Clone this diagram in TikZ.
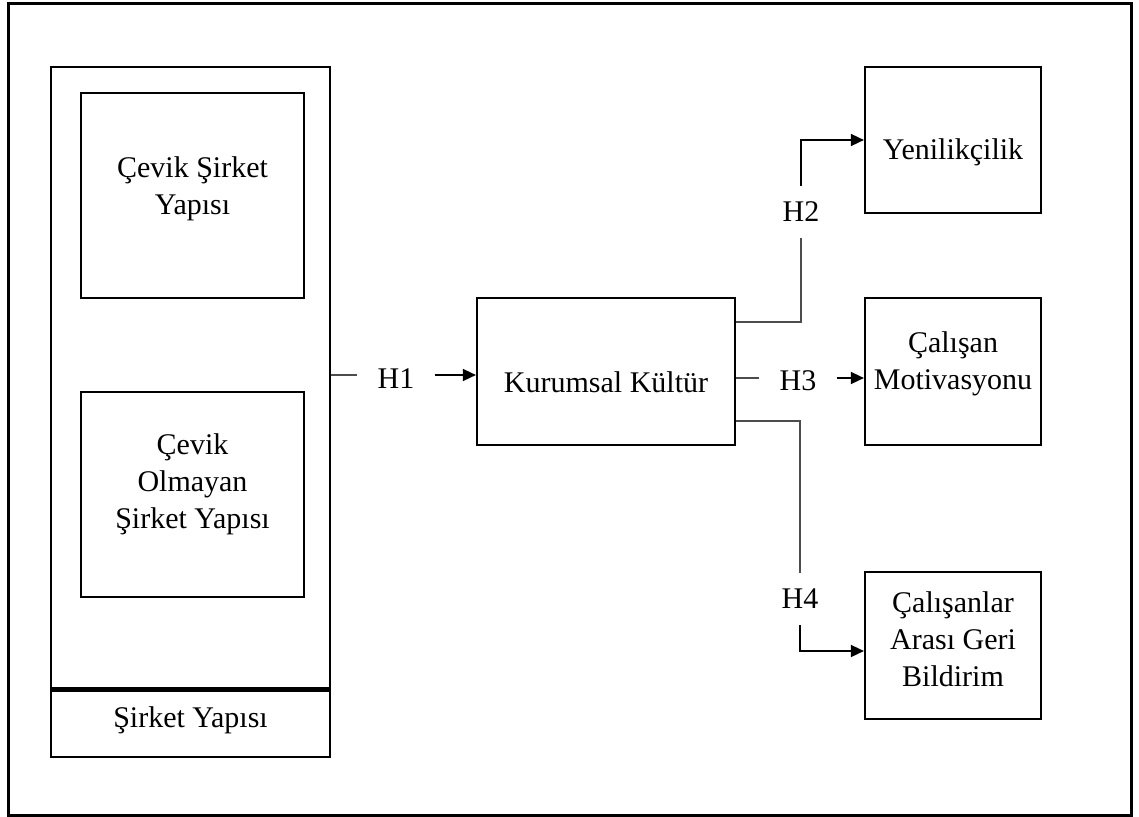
\documentclass[tikz,border=0pt]{standalone}
\usepackage{fontspec}
\setmainfont{Liberation Serif}
\usetikzlibrary{arrows.meta}
\begin{document}
\begin{tikzpicture}[x=1pt,y=-1pt,
  box/.style={draw, line width=2.2pt, inner sep=0pt},
  lbl/.style={font=\fontsize{30}{37}\selectfont, align=center, inner sep=0pt},
  hlbl/.style={font=\fontsize{30}{37}\selectfont, inner xsep=20pt, inner ysep=14pt},
  conn/.style={line width=1.6pt, draw=black!70},
  arr/.style={-{Triangle[length=13pt,width=12pt]}, black}]
\useasboundingbox (0,0) rectangle (1139,816);
\draw[line width=3pt] (8,4) rectangle (1131,815);
% left column
\node[box, minimum width=279pt, minimum height=690pt] (sy) at (190.5,412) {};
\draw[line width=5pt] (sy.west |- 0,689) -- (sy.east |- 0,689);
\node[lbl] (syl) at (190.5,720) {Şirket Yapısı};
\node[box, minimum width=223pt, minimum height=205pt] (cs) at (192.5,195.5) {};
\node[lbl] (csl) at (192.5,189) {Çevik Şirket\\Yapısı};
\node[box, minimum width=223pt, minimum height=205pt] (co) at (192.5,494.5) {};
\node[lbl] (col) at (192.5,484) {Çevik\\Olmayan\\Şirket Yapısı};
% centre
\node[box, minimum width=258pt, minimum height=147pt] (kk) at (606,371.5) {};
\node[lbl] (kkl) at (606,382) {Kurumsal Kültür};
% right
\node[box, minimum width=176pt, minimum height=146pt] (ye) at (953,140) {};
\node[lbl] (yel) at (953,152) {Yenilikçilik};
\node[box, minimum width=176pt, minimum height=147pt] (cm) at (953,371.5) {};
\node[lbl] (cml) at (953,364) {Çalışan\\Motivasyonu};
\node[box, minimum width=176pt, minimum height=147pt] (cg) at (953,645.5) {};
\node[lbl] (cgl) at (953,639) {Çalışanlar\\Arası Geri\\Bildirim};
% connectors
\node[hlbl] (h1) at (396,379) {H1};
\draw[conn] (sy.east |- 0,375) -- (h1.west |- 0,375);
\draw[conn, arr] (h1.east |- 0,375) -- (kk.west |- 0,375);
\node[hlbl] (h3) at (798,381) {H3};
\draw[conn] (kk.east |- 0,378) -- (h3.west |- 0,378);
\draw[conn, arr] (h3.east |- 0,378) -- (cm.west |- 0,378);
\node[hlbl, inner ysep=16pt] (h2) at (801,212) {H2};
\draw[conn] (kk.east |- 0,322) -| (h2.south);
\draw[conn, arr] (h2.north) |- (ye.west);
\node[hlbl, inner ysep=16pt] (h4) at (800,599) {H4};
\draw[conn] (kk.east |- 0,421) -| (h4.north);
\draw[conn, arr] (h4.south) |- (cg.west |- 0,651);
\end{tikzpicture}
\end{document}
